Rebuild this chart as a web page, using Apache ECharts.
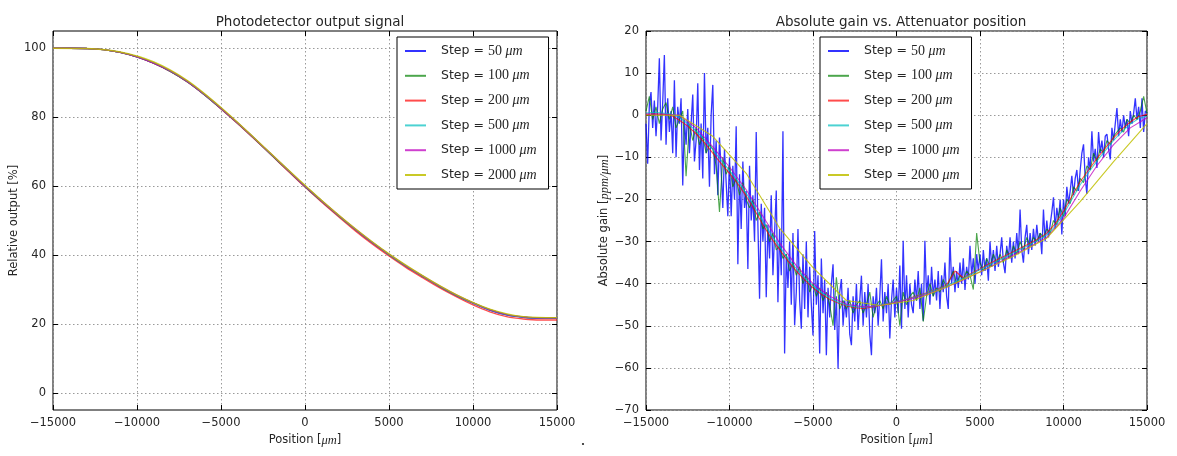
<!DOCTYPE html>
<html><head><meta charset="utf-8">
<script src="https://cdn.jsdelivr.net/npm/echarts@6/dist/echarts.min.js"></script>
<style>html,body{margin:0;padding:0;background:#fff}#c{width:1177px;height:456px}</style>
</head><body><div id="c"></div>
<script>
// ---------- data ----------
const stepLabels = ['50', '100', '200', '500', '1000', '2000'];
const xStart = -15000;
const xTicks = [-15000, -10000, -5000, 0, 5000, 10000, 15000];
const leftYTicks = [0, 20, 40, 60, 80, 100];

// Left chart: relative output [%], sampled every 1000 um (yellow every 2000 um)
const outBlue = [100, 100, 99.9, 99.6, 98.8, 97.5, 95.7, 93.3, 90.3, 86.6, 82.5, 78.2, 73.7, 69.1, 64.5, 59.9, 55.6, 51.4, 47.4, 43.6, 40.1, 36.8, 33.8, 30.9, 28.3, 26.0, 24.0, 22.6, 21.9, 21.6, 21.6];
const outGreen = [100, 100, 99.9, 99.6, 98.8, 97.5, 95.7, 93.3, 90.3, 86.6, 82.5, 78.2, 73.7, 69.1, 64.5, 59.9, 55.6, 51.4, 47.4, 43.6, 40.1, 36.8, 33.8, 30.9, 28.3, 26.1, 24.1, 22.7, 22.0, 21.7, 21.7];
const outRed = [100, 100, 99.9, 99.6, 98.8, 97.5, 95.6, 93.2, 90.2, 86.5, 82.4, 78.1, 73.6, 69.0, 64.3, 59.7, 55.3, 51.1, 47.0, 43.2, 39.7, 36.4, 33.4, 30.5, 27.9, 25.5, 23.5, 22.1, 21.4, 21.1, 21.1];
const outCyan = [100, 100, 99.9, 99.6, 98.8, 97.5, 95.7, 93.3, 90.3, 86.6, 82.5, 78.2, 73.7, 69.1, 64.5, 59.9, 55.6, 51.4, 47.4, 43.6, 40.1, 36.8, 33.8, 30.9, 28.3, 26.0, 24.0, 22.6, 21.9, 21.6, 21.6];
const outMagenta = [100, 100, 99.9, 99.6, 98.8, 97.5, 95.7, 93.4, 90.4, 86.7, 82.6, 78.3, 73.8, 69.2, 64.6, 60.0, 55.7, 51.5, 47.5, 43.7, 40.2, 36.9, 33.9, 31.0, 28.4, 26.1, 24.1, 22.7, 22.0, 21.7, 21.7];
const outYellow = [100, 99.9, 98.9, 96.0, 90.6, 82.8, 73.9, 64.7, 55.8, 47.6, 40.3, 34.0, 28.5, 24.3, 22.1, 21.8];

// Right chart: absolute gain [ppm/um]
// blue sampled every 100 um
const gainBlue = [
 -2, -11.5, 2.5, 5.5, -3, 3.5, -5, 2, 13.5, -6,
 3, 14.3, -7, 4, -4, 1, -9, 8.3, -10, 2,
 -2, 4, -16.7, -1, -7, 1.5, -9, -2, 4.9, -11,
 -6, 7.6, -13, -2, -15, 10, -9, -3, -17, 0,
 7.2, -14, -6, -19, -5.3, -13, -22, -8, -16, -24,
 -10, -24, -12, -20, -2.6, -35.4, -14, -27, -11, -22,
 -18, -36.5, -12, -25, -19, -30, -4, -26, -43.6, -21,
 -30, -22, -43.2, -26, -34, -19, -38, -28, -17.9, -44.4,
 -27, -38, -3.8, -56.6, -33, -41, -30, -45, -28, -49.9,
 -42, -27, -44, -50.7, -33, -46, -30, -48, -36, -45,
 -52.3, -27.5, -45, -38, -56.6, -34, -47, -39, -57, -41,
 -48, -40, -35.4, -51, -43, -60.2, -42, -38.9, -50, -44,
 -48, -41, -52, -54.6, -43, -49, -40, -51, -44, -38.1,
 -50, -42, -48, -40, -52, -57, -43, -47, -41, -50,
 -43, -34.2, -49, -42, -47, -40, -53, -44, -39, -48,
 -41, -47, -35.7, -50.7, -29.8, -46, -38, -48, -40, -45,
 -47, -39, -44, -37, -46, -40, -48.8, -29.8, -43, -38,
 -45, -36, -43, -39, -44, -37, -46, -38, -42, -35,
 -43, -46, -29, -40, -36, -42, -37, -41, -35, -40,
 -34, -41.5, -36, -39, -31, -38, -34, -40, -33, -37,
 -33, -38, -32, -37, -34, -39.3, -30, -36, -32, -37,
 -31, -36, -33, -29, -35, -37.5, -31, -34, -29, -35,
 -30, -34, -28, -33, -22.4, -32, -35, -29, -26, -33,
 -28, -32, -27, -31, -26, -30, -28, -33, -22.4, -30,
 -25, -29, -26, -23, -19.5, -27, -22, -25, -20, -28.3,
 -20, -24, -17, -21, -18, -14.4, -19, -15, -13, -18,
 -13, -9, -6.9, -15, -18.7, -10, -13, -3.8, -11, -8,
 -12.5, -4, -9, -6, -10, -5, -4.5, -8, -10.5, -3,
 -6, -2, 1.7, -5, -1, -4, 0, -3, -1, -5,
 1, -2, 0.5, 4, -1, 2, -3, 4, -4, 1,
 0.5
];
// green sampled every 200 um
const gainGreen = [
 1, 4.5, -1, 2, -2, 1.5, 3, -1, 2, -3,
 -1, 1, -14.5, -2, -6, -3, -7, -5, -9, -7,
 -8, -12, -23, -10, -14, -12, -17, -15, -19, -16,
 -20, -22, -20, -25, -23, -27, -26, -30, -28, -32,
 -31, -34, -33, -37, -35, -38, -36, -40, -38, -42,
 -40, -43, -41, -44, -42, -45, -50, -38.5, -46, -44,
 -46, -44, -47, -45, -44, -47, -45, -42, -48, -45,
 -44, -46, -43, -45, -44, -43, -50, -42, -45, -43,
 -42, -44, -41, -49, -43, -40, -43, -41, -42, -39,
 -41, -39, -37, -40, -38, -39, -37, -38, -41.4, -28,
 -35, -37, -34, -36, -33, -35, -33, -35, -32, -34,
 -31, -33, -30, -32, -29, -31, -29, -30, -28, -29,
 -27, -28, -25, -26, -22, -24, -20, -21, -17, -18,
 -15, -16, -12, -13, -9, -11, -8, -9, -6, -7,
 -5, -4, -3, -4, -1, -2, 0, -1, 1, 4.5,
 0.5
];
// red and cyan sampled every 500 um
const gainRed = [0.2, 0.3, 0.2, 0, -1.2, -2.6, -4.4, -6.5, -9, -11.5, -13.8, -16.3, -19.2, -22.5, -26, -29.2, -31.9, -34.6, -37, -39.1, -41, -42.5, -43.7, -44.6, -45.3, -45.7, -45.9, -45.6, -45.2, -44.8, -44.3, -43.8, -43.2, -42.6, -41.9, -41.2, -40.3, -37, -38.6, -37.5, -36.5, -35.4, -34.4, -33.4, -32.4, -31.4, -30.4, -29.3, -28, -25.8, -22.8, -19.3, -15.8, -13, -10.3, -7.8, -5.4, -3.3, -1.6, -0.3, 0.2];
const gainCyan = [0.5, 0.7, 0.5, 0.3, -0.5, -2, -3.7, -5.8, -8.2, -10.7, -13.1, -15.7, -18.5, -21.7, -25.2, -28.4, -31.2, -34, -36.4, -38.6, -40.5, -42.1, -43.4, -44.4, -45.1, -45.5, -45.6, -45.4, -45.1, -44.7, -44.3, -43.8, -43.3, -42.7, -42, -41.3, -40.5, -39.6, -38.7, -37.7, -36.7, -35.7, -34.7, -33.7, -32.7, -31.7, -30.7, -29.6, -28.4, -26.4, -23.5, -20, -16.5, -13.6, -10.9, -8.4, -6, -3.9, -2.1, -0.8, -0.2];
// magenta every 1000 um, yellow every 2000 um
const gainMagenta = [0.3, 0.3, 0, -3, -7.5, -12.3, -17.7, -24, -30.3, -35.7, -40, -43, -44.9, -45.5, -45.2, -44.4, -43.5, -42.3, -40.8, -39.1, -37.2, -35.2, -33.2, -31.2, -29, -24.5, -18, -12, -7, -3, -0.6];
const gainYellow = [0, 0, -5, -13.8, -26.8, -36.2, -44, -45.2, -44, -40.8, -37.2, -33.5, -29.2, -20.5, -11, -2];

// ---------- build ----------
const names = stepLabels.map(s => 'Step = ' + s + ' \u03bcm');
const colors = ['rgba(0,0,255,0.8)', 'rgba(0,128,0,0.7)', 'rgba(255,0,0,0.7)', 'rgba(0,191,191,0.7)', 'rgba(191,0,191,0.75)', 'rgba(191,191,0,0.85)'];
function pairs(vals, spacing) { return vals.map((v, i) => [xStart + i * spacing, v]); }

const leftData = [[outBlue, 1000], [outGreen, 1000], [outRed, 1000], [outCyan, 1000], [outMagenta, 1000], [outYellow, 2000]];
const rightData = [[gainBlue, 100], [gainGreen, 200], [gainRed, 500], [gainCyan, 500], [gainMagenta, 1000], [gainYellow, 2000]];

const series = [];
leftData.forEach((d, k) => series.push({
  name: names[k], type: 'line', xAxisIndex: 0, yAxisIndex: 0, data: pairs(d[0], d[1]),
  showSymbol: false, symbol: 'none', smooth: 0.3, color: colors[k],
  lineStyle: {width: 1.4, color: colors[k]}, silent: true
}));
rightData.forEach((d, k) => series.push({
  name: names[k], type: 'line', xAxisIndex: 1, yAxisIndex: 1, data: pairs(d[0], d[1]),
  showSymbol: false, symbol: 'none', color: colors[k],
  lineStyle: {width: k === 0 ? 1.3 : 1.1, color: colors[k]}, silent: true
}));

const TXT = '#262626';
const minus = v => String(v).replace('-', '\u2212');
const gridLine = {show: true, lineStyle: {color: '#9a9a9a', type: [1.5, 2.5], width: 1}};
const tick = {show: true, inside: true, length: 5, lineStyle: {color: '#000', width: 1}};
const nameRich = {
  a: {fontFamily: 'DejaVu Sans', fontSize: 11.5, color: TXT},
  b: {fontFamily: 'Liberation Serif', fontStyle: 'italic', fontSize: 12.5, color: TXT}
};
const noLine = {show: false, onZero: false};

function xAx(grid, pos, main) {
  return {
    type: 'value', gridIndex: grid, position: pos, min: -15000, max: 15000, interval: 5000,
    axisLine: noLine, axisTick: tick,
    axisLabel: {show: main, color: TXT, fontSize: 11.5, fontFamily: 'DejaVu Sans', margin: 7, formatter: minus},
    splitLine: main ? gridLine : {show: false},
    name: main ? '{a|Position [}{b|\u03bcm}{a|]}' : '', nameLocation: 'middle', nameGap: 23,
    nameTextStyle: {rich: nameRich}
  };
}
function yAxLeft(pos, main) {
  return {
    type: 'value', gridIndex: 0, position: pos, min: -5, max: 105,
    axisLine: noLine,
    axisTick: Object.assign({}, tick, {customValues: leftYTicks}),
    axisLabel: {show: main, color: TXT, fontSize: 11.5, fontFamily: 'DejaVu Sans', margin: 7, formatter: minus, customValues: leftYTicks},
    splitLine: main ? gridLine : {show: false},
    name: main ? '{a|Relative output [%]}' : '', nameLocation: 'middle', nameGap: 33,
    nameTextStyle: {rich: nameRich}
  };
}
function yAxRight(pos, main) {
  return {
    type: 'value', gridIndex: 1, position: pos, min: -70, max: 20, interval: 10,
    axisLine: noLine, axisTick: tick,
    axisLabel: {show: main, color: TXT, fontSize: 11.5, fontFamily: 'DejaVu Sans', margin: 7, formatter: minus},
    splitLine: main ? gridLine : {show: false},
    name: main ? '{a|Absolute gain [}{b|ppm/\u03bcm}{a|]}' : '', nameLocation: 'middle', nameGap: 34,
    nameTextStyle: {rich: nameRich}
  };
}

function legendAt(left) {
  return {
    data: names, orient: 'vertical', left: left, top: 37,
    backgroundColor: '#fff', borderColor: '#000', borderWidth: 1, borderRadius: 0,
    padding: [7, 12, 7, 8], itemWidth: 21, itemHeight: 2, itemGap: 10.8, icon: 'rect',
    selectedMode: false,
    formatter: n => '{s|Step = }{n|' + n.replace('Step = ', '').replace(' \u03bcm', '') + '}{u| \u03bcm}',
    textStyle: {
      rich: {
        s: {fontFamily: 'DejaVu Sans', fontSize: 12.5, color: TXT, padding: [0, 0, 0, 10], lineHeight: 14},
        n: {fontFamily: 'Liberation Serif', fontSize: 14, color: TXT, lineHeight: 14},
        u: {fontFamily: 'Liberation Serif', fontStyle: 'italic', fontSize: 14, color: TXT, lineHeight: 14}
      }
    }
  };
}

const chart = echarts.init(document.getElementById('c'), null, {renderer: 'canvas'});
chart.setOption({
  animation: false,
  backgroundColor: '#fff',
  title: [
    {text: 'Photodetector output signal', left: 305, top: 10, textAlign: 'center',
     textStyle: {fontFamily: 'DejaVu Sans', fontSize: 13.5, fontWeight: 'normal', color: TXT}},
    {text: 'Absolute gain vs. Attenuator position', left: 896, top: 10, textAlign: 'center',
     textStyle: {fontFamily: 'DejaVu Sans', fontSize: 13.5, fontWeight: 'normal', color: TXT}}
  ],
  grid: [
    {left: 53, right: 620, top: 31, bottom: 46, show: true, borderColor: '#000', borderWidth: 1, backgroundColor: 'transparent'},
    {left: 646, right: 30, top: 31, bottom: 46, show: true, borderColor: '#000', borderWidth: 1, backgroundColor: 'transparent'}
  ],
  xAxis: [xAx(0, 'bottom', true), xAx(1, 'bottom', true), xAx(0, 'top', false), xAx(1, 'top', false)],
  yAxis: [yAxLeft('left', true), yAxRight('left', true), yAxLeft('right', false), yAxRight('right', false)],
  legend: [legendAt(397), legendAt(820)],
  series: series,
  graphic: [{type: 'circle', shape: {cx: 583, cy: 444, r: 1.1}, style: {fill: '#222'}}]
});
</script>
</body></html>
